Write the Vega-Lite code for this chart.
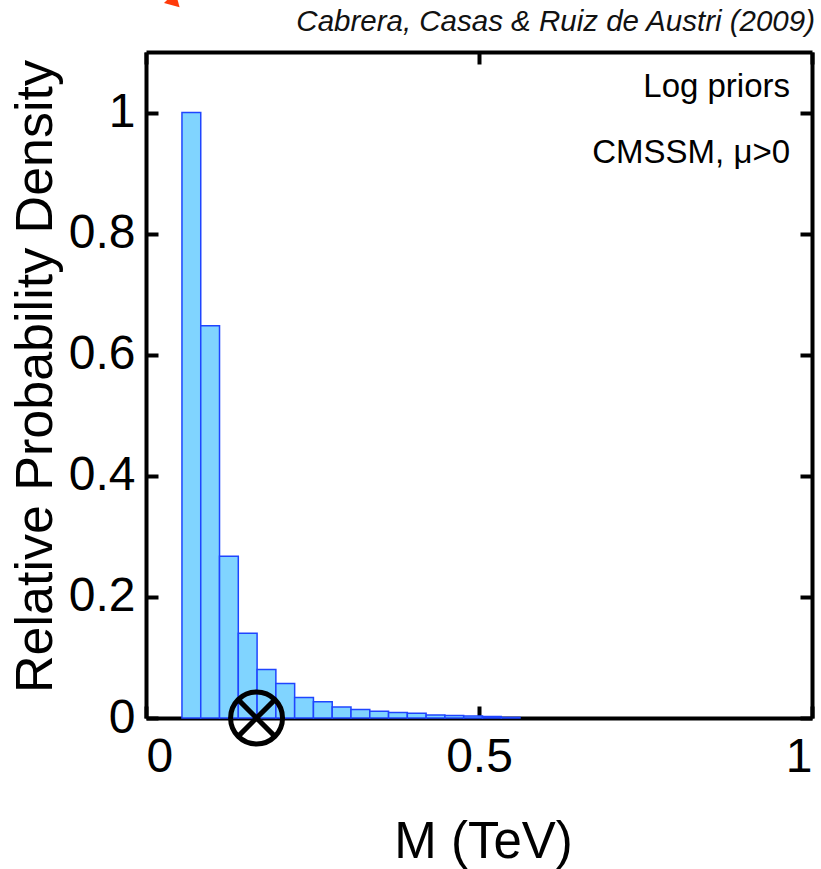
{
  "$schema": "https://vega.github.io/schema/vega-lite/v6.json",
  "width": 666,
  "height": 666,
  "autosize": {"type": "none"},
  "padding": {"left": 146, "top": 52, "right": 9, "bottom": 151},
  "background": "white",
  "config": {
    "font": "Liberation Sans",
    "view": {"stroke": null},
    "axis": {
      "grid": false,
      "zindex": 1,
      "domainColor": "black",
      "domainWidth": 4,
      "tickColor": "black",
      "tickWidth": 4,
      "tickSize": -12,
      "labelFont": "Liberation Sans",
      "labelFontSize": 48,
      "labelColor": "black",
      "titleFont": "Liberation Sans",
      "titleFontWeight": "normal",
      "titleColor": "black"
    }
  },
  "datasets": {
    "bins": [
      {"m0": 0.0540, "m1": 0.0822, "density": 1.000},
      {"m0": 0.0822, "m1": 0.1104, "density": 0.648},
      {"m0": 0.1104, "m1": 0.1386, "density": 0.267},
      {"m0": 0.1386, "m1": 0.1668, "density": 0.140},
      {"m0": 0.1668, "m1": 0.1950, "density": 0.080},
      {"m0": 0.1950, "m1": 0.2232, "density": 0.057},
      {"m0": 0.2232, "m1": 0.2514, "density": 0.034},
      {"m0": 0.2514, "m1": 0.2796, "density": 0.027},
      {"m0": 0.2796, "m1": 0.3078, "density": 0.018},
      {"m0": 0.3078, "m1": 0.3360, "density": 0.014},
      {"m0": 0.3360, "m1": 0.3642, "density": 0.011},
      {"m0": 0.3642, "m1": 0.3924, "density": 0.009},
      {"m0": 0.3924, "m1": 0.4206, "density": 0.008},
      {"m0": 0.4206, "m1": 0.4488, "density": 0.005},
      {"m0": 0.4488, "m1": 0.4770, "density": 0.004},
      {"m0": 0.4770, "m1": 0.5052, "density": 0.0035},
      {"m0": 0.5052, "m1": 0.5334, "density": 0.0025},
      {"m0": 0.5334, "m1": 0.5616, "density": 0.001}
    ],
    "bestfit": [
      {"m": 0.166, "density": 0}
    ],
    "arrow": [
      {"m": 0.043, "density": 1.182}
    ]
  },
  "layer": [
    {
      "data": {"name": "bins"},
      "mark": {"type": "rect", "fill": "#80d4ff", "stroke": "#1f45ff", "strokeWidth": 1.5},
      "encoding": {
        "x": {
          "field": "m0", "type": "quantitative",
          "scale": {"domain": [0, 1], "nice": false, "zero": false},
          "axis": {
            "orient": "bottom",
            "values": [0, 0.5, 1],
            "format": "~g",
            "labelPadding": 27,
            "labelBaseline": "top",
            "title": "M (TeV)",
            "titleFontSize": 51,
            "titleX": 337,
            "titleY": 139,
            "titleBaseline": "alphabetic"
          }
        },
        "x2": {"field": "m1"},
        "y": {
          "field": "density", "type": "quantitative",
          "scale": {"domain": [0, 1.1], "nice": false},
          "axis": {
            "orient": "left",
            "values": [0, 0.2, 0.4, 0.6, 0.8, 1],
            "format": "~g",
            "labelPadding": 23,
            "title": "Relative Probability Density",
            "titleFontSize": 52,
            "titleX": -111,
            "titleY": 324,
            "titleAngle": -90,
            "titleBaseline": "middle",
            "titleAlign": "center"
          }
        },
        "y2": {"datum": 0}
      }
    },
    {
      "data": {"name": "bestfit"},
      "mark": {
        "type": "point",
        "shape": "M -1 0 A 1 1 0 1 0 1 0 A 1 1 0 1 0 -1 0 M -0.707 -0.707 L 0.707 0.707 M -0.707 0.707 L 0.707 -0.707",
        "filled": false,
        "stroke": "black",
        "strokeWidth": 5,
        "size": 2700,
        "opacity": 1
      },
      "encoding": {
        "x": {
          "field": "m", "type": "quantitative",
          "axis": {"orient": "top", "values": [0, 0.5, 1], "labels": false, "title": null}
        },
        "y": {
          "field": "density", "type": "quantitative",
          "axis": {"orient": "right", "values": [0, 0.2, 0.4, 0.6, 0.8, 1], "labels": false, "title": null}
        }
      }
    },
    {
      "data": {"name": "arrow"},
      "mark": {"type": "point", "shape": "triangle-down", "filled": true, "color": "#ff3a0a", "size": 260, "angle": -45, "opacity": 1, "clip": false},
      "encoding": {
        "x": {"field": "m", "type": "quantitative", "axis": null},
        "y": {"field": "density", "type": "quantitative", "axis": null}
      }
    },
    {
      "data": {"values": [{"label": "Log priors"}]},
      "mark": {"type": "text", "align": "right", "baseline": "alphabetic", "fontSize": 33, "color": "black"},
      "encoding": {
        "text": {"field": "label"},
        "x": {"datum": 0.967, "type": "quantitative", "axis": null},
        "y": {"datum": 1.0264, "type": "quantitative", "axis": null}
      }
    },
    {
      "data": {"values": [{"label": "CMSSM, μ>0"}]},
      "mark": {"type": "text", "align": "right", "baseline": "alphabetic", "fontSize": 33, "color": "black"},
      "encoding": {
        "text": {"field": "label"},
        "x": {"datum": 0.967, "type": "quantitative", "axis": null},
        "y": {"datum": 0.917, "type": "quantitative", "axis": null}
      }
    },
    {
      "data": {"values": [{"label": "Cabrera, Casas & Ruiz de Austri (2009)"}]},
      "mark": {"type": "text", "align": "right", "baseline": "alphabetic", "fontSize": 29.5, "fontStyle": "italic", "color": "#111111", "clip": false},
      "encoding": {
        "text": {"field": "label"},
        "x": {"datum": 1.0045, "type": "quantitative", "axis": null},
        "y": {"datum": 1.135, "type": "quantitative", "axis": null}
      }
    }
  ],
  "resolve": {"axis": {"x": "independent", "y": "independent"}}
}
